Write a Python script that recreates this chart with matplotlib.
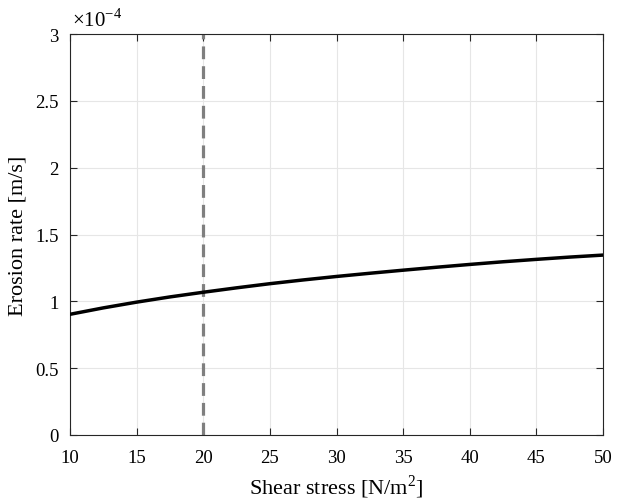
import matplotlib
matplotlib.use("Agg")
import matplotlib.pyplot as plt

plt.rcParams['font.family'] = ['Liberation Serif', 'DejaVu Serif']
plt.rcParams['mathtext.fontset'] = 'custom'
plt.rcParams['mathtext.rm'] = 'Liberation Serif'

shear = [10, 12.5, 15, 17.5, 20, 22.5, 25, 27.5, 30, 32.5, 35, 37.5, 40, 42.5, 45, 47.5, 50]
erosion_e4 = [0.903, 0.951, 0.994, 1.033, 1.068, 1.101, 1.132, 1.160, 1.186, 1.210, 1.233, 1.255, 1.276, 1.296, 1.314, 1.331, 1.346]
critical_shear = 20
xticks = [10, 15, 20, 25, 30, 35, 40, 45, 50]
yticks = [0, 0.5, 1, 1.5, 2, 2.5, 3]
ytick_labels = ['0', '0.5', '1', '1.5', '2', '2.5', '3']

fig = plt.figure(figsize=(6.19, 5.02), dpi=100)
ax = fig.add_axes([70/619, 66/502, 533/619, 401/502])

ax.plot(shear, erosion_e4, color='black', lw=2.5, zorder=3, solid_joinstyle='round')
ax.axvline(critical_shear, color='#7f7f7f', lw=2.3, ls=(0, (4, 2.2)), zorder=2)

ax.set_xlim(10, 50)
ax.set_ylim(0, 3)
ax.set_xticks(xticks)
ax.set_yticks(yticks)
ax.set_yticklabels(ytick_labels)
ax.grid(True, color='#e6e6e6', lw=0.8)
ax.set_axisbelow(True)
ax.tick_params(direction='in', top=True, right=True, labelsize=13.5, length=5, color='#262626', width=0.8)
ax.tick_params(axis='x', pad=10)
ax.tick_params(axis='y', pad=8)
for s in ax.spines.values():
    s.set_color('#262626')
    s.set_linewidth(0.8)

ax.set_xlabel('Shear stress [N/m$^2$]', fontsize=16, labelpad=5)
ax.set_ylabel('Erosion rate [m/s]', fontsize=16, labelpad=6)
ax.text(0.003, 1.008, '×10$^{-4}$', transform=ax.transAxes, fontsize=15, ha='left', va='bottom')

fig.savefig('out.png', dpi=100)
